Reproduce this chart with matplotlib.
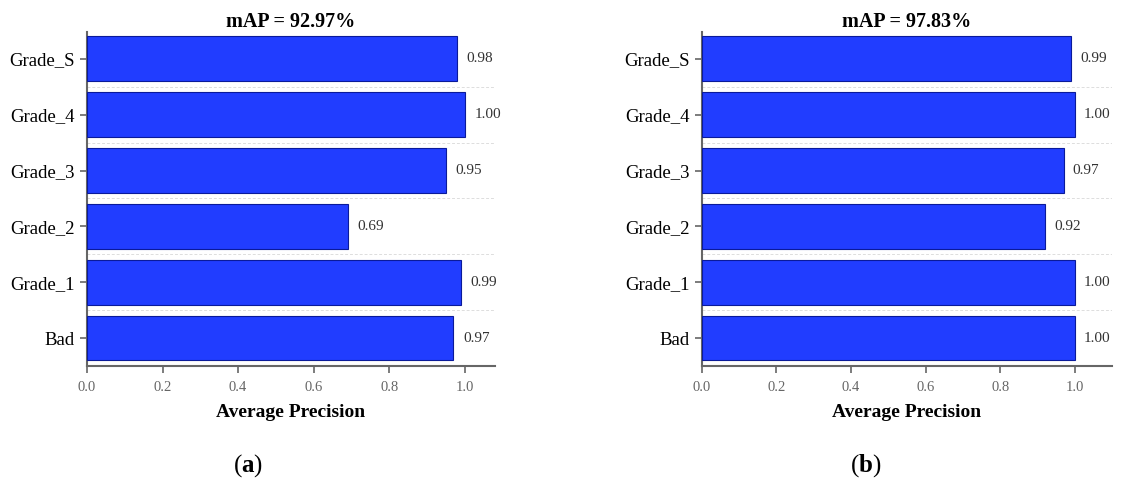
import numpy as np
import matplotlib.pyplot as plt
from matplotlib.ticker import FixedLocator

classes = ["Bad", "Grade_1", "Grade_2", "Grade_3", "Grade_4", "Grade_S"]
ap_a = [0.97, 0.99, 0.69, 0.95, 1.00, 0.98]
ap_b = [1.00, 1.00, 0.92, 0.97, 1.00, 0.99]
titles = ["mAP = 92.97%", "mAP = 97.83%"]
captions = [r"($\mathbf{a}$)", r"($\mathbf{b}$)"]
xmax = [1.08, 1.10]

plt.rcParams["font.family"] = ["Liberation Serif", "DejaVu Serif"]
plt.rcParams["mathtext.fontset"] = "custom"
plt.rcParams["mathtext.rm"] = "Liberation Serif"
plt.rcParams["mathtext.bf"] = "Liberation Serif:bold"

BAR = "#213dff"
EDGE = "#0a1a9a"
SPINE = "#666666"


def draw(ax, values, title, xm):
    y = np.arange(len(classes))
    ax.barh(y, values, height=0.8, color=BAR, edgecolor=EDGE, linewidth=0.8, zorder=3)
    for yi, v in zip(y, values):
        ax.text(v + 0.025, yi, f"{v:.2f}", va="center", ha="left",
                fontsize=11, color="#333333")
    ax.set_yticks(y)
    ax.set_yticklabels(classes, fontsize=13.5)
    ax.yaxis.set_minor_locator(FixedLocator(y[:-1] + 0.5))
    ax.grid(axis="y", which="minor", color="#dddddd", linestyle=(0, (3, 2)),
            linewidth=0.7, zorder=0)
    ax.tick_params(axis="y", which="minor", length=0)
    ax.set_ylim(-0.5, 5.48)
    ax.set_xlim(0, xm)
    ax.set_xticks([0.0, 0.2, 0.4, 0.6, 0.8, 1.0])
    ax.set_xticklabels(["0.0", "0.2", "0.4", "0.6", "0.8", "1.0"],
                       fontsize=10.5, color="#666666")
    ax.tick_params(axis="both", which="major", length=5, width=1.2, color=SPINE)
    ax.tick_params(axis="x", pad=6)
    ax.tick_params(axis="y", pad=4)
    for side in ["top", "right"]:
        ax.spines[side].set_visible(False)
    for side in ["left", "bottom"]:
        ax.spines[side].set_color(SPINE)
        ax.spines[side].set_linewidth(1.5)
    ax.set_title(title, fontsize=14.5, fontweight="bold", pad=2)
    ax.set_xlabel("Average Precision", fontsize=14, fontweight="bold", labelpad=7)


fig = plt.figure(figsize=(11.24, 4.92), dpi=100)
ax1 = fig.add_axes([0.0774, 0.256, 0.3630, 0.679])
ax2 = fig.add_axes([0.6245, 0.256, 0.3648, 0.679])
draw(ax1, ap_a, titles[0], xmax[0])
draw(ax2, ap_b, titles[1], xmax[1])

fig.text(0.2207, 0.053, captions[0], ha="center", va="center", fontsize=18)
fig.text(0.7705, 0.053, captions[1], ha="center", va="center", fontsize=18)

fig.savefig("out.png", dpi=100)
